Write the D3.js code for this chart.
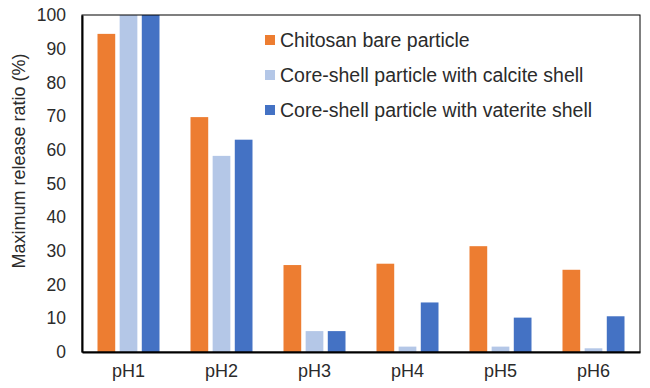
<!DOCTYPE html>
<html>
<head>
<meta charset="utf-8">
<script src="https://cdn.jsdelivr.net/npm/d3@7"></script>
<style>
  body { margin: 0; background: #fff; }
  text { font-family: "Liberation Sans", Arial, Helvetica, sans-serif; fill: #2b2b2b; }
</style>
</head>
<body>
<svg id="s" width="650" height="388"></svg>
<script>
// data
var categories = ["pH1", "pH2", "pH3", "pH4", "pH5", "pH6"];
var seriesNames = ["Chitosan bare particle",
                   "Core-shell particle with calcite shell",
                   "Core-shell particle with vaterite shell"];
var chitosan = [94.4, 69.7, 25.8, 26.2, 31.4, 24.4];
var calcite  = [100, 58.2, 6.2, 1.6, 1.6, 1.1];
var vaterite = [100, 63.0, 6.2, 14.7, 10.2, 10.6];
var yTicks = [0, 10, 20, 30, 40, 50, 60, 70, 80, 90, 100];
var colors = ["#ED7D31", "#B4C7E7", "#4472C4"];

var series = [chitosan, calcite, vaterite];

var m = {left: 82, right: 10, top: 15, bottom: 36};
var W = 650, H = 388;
var svg = d3.select("#s");

var x = d3.scaleBand().domain(categories).range([m.left, W - m.right]);
var xs = d3.scaleBand().domain(d3.range(series.length))
    .range([0, 62]).paddingInner(0.2).paddingOuter(0);
var y = d3.scaleLinear().domain([0, 100]).range([H - m.bottom, m.top]);

// bars
series.forEach(function (vals, si) {
  svg.append("g").selectAll("rect").data(vals).enter().append("rect")
    .attr("x", function (d, i) { return x(categories[i]) + x.bandwidth() / 2 - 31 + xs(si); })
    .attr("y", function (d) { return y(d); })
    .attr("width", xs.bandwidth())
    .attr("height", function (d) { return y(0) - y(d); })
    .attr("fill", colors[si]);
});

// frame
svg.append("rect")
  .attr("x", m.left).attr("y", m.top)
  .attr("width", W - m.right - m.left).attr("height", y(0) - m.top)
  .attr("fill", "none").attr("stroke", "#000").attr("stroke-width", 1);

// y axis
var yAxis = d3.axisLeft(y).tickValues(yTicks).tickSize(0).tickPadding(16);
var gy = svg.append("g").attr("transform", "translate(" + m.left + ",0)").call(yAxis);
gy.select(".domain").attr("stroke", "#000").attr("stroke-width", 2);
gy.selectAll("text").style("font-size", "17.5px").attr("fill", "#2b2b2b");

// x axis
var xAxis = d3.axisBottom(x).tickSize(0).tickPadding(12);
var gx = svg.append("g").attr("transform", "translate(0," + y(0) + ")").call(xAxis);
gx.select(".domain").attr("stroke", "#000").attr("stroke-width", 2);
gx.selectAll("text").style("font-size", "18px").attr("fill", "#2b2b2b");

// y title
svg.append("text")
  .attr("transform", "translate(25,161) rotate(-90)")
  .attr("text-anchor", "middle")
  .style("font-size", "18px")
  .text("Maximum release ratio (%)");

// legend
var lg = svg.append("g").selectAll("g").data(seriesNames).enter().append("g")
  .attr("transform", function (d, i) { return "translate(265," + (40 + i * 35) + ")"; });
lg.append("rect").attr("x", 0).attr("y", -5).attr("width", 10).attr("height", 10)
  .attr("fill", function (d, i) { return colors[i]; });
lg.append("text").attr("x", 15).attr("dy", "0.35em")
  .style("font-size", "19.5px").text(function (d) { return d; });
</script>
</body>
</html>
